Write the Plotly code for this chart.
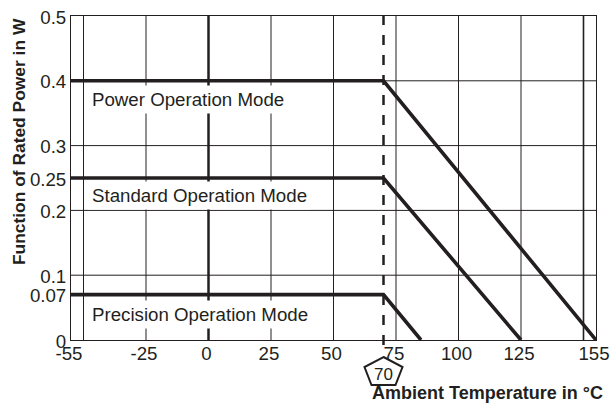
import plotly.graph_objects as go

# ---- data ----
power_x = [-55, 70, 155]
power_y = [0.4, 0.4, 0.0]
standard_x = [-55, 70, 125]
standard_y = [0.25, 0.25, 0.0]
precision_x = [-55, 70, 85]
precision_y = [0.07, 0.07, 0.0]

x_tickvals = [-55, -25, 0, 25, 50, 75, 100, 125, 155]
x_ticktext = ["-55", "-25", "0", "25", "50", "75", "100", "125", "155"]
y_tickvals = [0, 0.07, 0.1, 0.2, 0.25, 0.3, 0.4, 0.5]
y_ticktext = ["0", "0.07", "0.1", "0.2", "0.25", "0.3", "0.4", "0.5"]

v_grid = [-50, -25, 25, 50, 75, 100, 125]
v_grid_bold = [0]
v_grid_mid = [150]
h_grid = [0.1, 0.2, 0.3, 0.4]
limit_temp = 70

labels = ["Power Operation Mode", "Standard Operation Mode", "Precision Operation Mode"]
label_y = [0.371, 0.223, 0.039]

INK = "#231f20"
FONT = "Liberation Sans, Arial, Helvetica, sans-serif"
FS = 18.7

fig = go.Figure()
for xs, ys in [(power_x, power_y), (standard_x, standard_y), (precision_x, precision_y)]:
    fig.add_trace(go.Scatter(x=xs, y=ys, mode="lines",
                             line=dict(color=INK, width=3.6),
                             showlegend=False, hoverinfo="skip"))

shapes = []
for v in v_grid:
    shapes.append(dict(type="line", xref="x", yref="paper", x0=v, x1=v, y0=0, y1=1,
                       line=dict(color=INK, width=1), layer="below"))
for v in v_grid_bold:
    shapes.append(dict(type="line", xref="x", yref="paper", x0=v, x1=v, y0=0, y1=1,
                       line=dict(color=INK, width=2.5), layer="below"))
for v in v_grid_mid:
    shapes.append(dict(type="line", xref="x", yref="paper", x0=v, x1=v, y0=0, y1=1,
                       line=dict(color=INK, width=1.6), layer="below"))
for h in h_grid:
    shapes.append(dict(type="line", xref="paper", yref="y", x0=0, x1=1, y0=h, y1=h,
                       line=dict(color=INK, width=1), layer="below"))
# dashed limit line
shapes.append(dict(type="line", xref="x", yref="paper", x0=limit_temp, x1=limit_temp,
                   y0=-0.0154, y1=1, line=dict(color=INK, width=2.5, dash="10px,10px"),
                   layer="above"))
# pentagon marker under the axis
shapes.append(dict(type="path", xref="x", yref="paper", xsizemode="pixel", ysizemode="pixel",
                   xanchor=limit_temp, yanchor=-0.0957,
                   path="M 0,14 L 19,4 L 12,-14 L -12,-14 L -19,4 Z",
                   line=dict(color=INK, width=2), fillcolor="white", layer="above"))

annotations = []
for t, y in zip(labels, label_y):
    annotations.append(dict(text=t, x=-48.2, y=y, xref="x", yref="y", xanchor="left",
                            yanchor="middle", showarrow=False, bgcolor="white", borderpad=3,
                            font=dict(family=FONT, size=FS, color=INK)))
annotations.append(dict(text=str(limit_temp), x=limit_temp, y=-0.1050, xref="x", yref="paper",
                        xanchor="center", yanchor="middle", showarrow=False,
                        font=dict(family=FONT, size=17, color=INK)))
annotations.append(dict(text="<b>Ambient Temperature in °C</b>", x=1.017, y=-0.1636,
                        xref="paper", yref="paper", xanchor="right", yanchor="middle",
                        showarrow=False, font=dict(family=FONT, size=18, color=INK)))
annotations.append(dict(text="<b>Function of Rated Power in W</b>", x=-0.099, y=0.611,
                        xref="paper", yref="paper", xanchor="center", yanchor="middle",
                        textangle=-90, showarrow=False,
                        font=dict(family=FONT, size=17.4, color=INK)))

fig.update_layout(
    width=610, height=405,
    margin=dict(l=71, r=14, t=16, b=65),
    paper_bgcolor="white", plot_bgcolor="white",
    font=dict(family=FONT, size=FS, color=INK),
    shapes=shapes, annotations=annotations,
    xaxis=dict(range=[-55, 155], tickvals=x_tickvals, ticktext=x_ticktext,
               showgrid=False, zeroline=False, showline=True, mirror=True, automargin=False,
               ticklabeloverflow="allow", ticklabelstandoff=-3, ticklabelshift=-2,
               linecolor=INK, linewidth=1, ticks="", tickfont=dict(size=FS, color=INK)),
    yaxis=dict(range=[0, 0.5], tickvals=y_tickvals, ticktext=y_ticktext,
               showgrid=False, zeroline=False, showline=True, mirror=True, automargin=False,
               ticklabeloverflow="allow", ticklabelshift=1,
               linecolor=INK, linewidth=1, ticks="", tickfont=dict(size=FS, color=INK)),
)

# remove the default 8px page margin so the 610x405 figure fills the window exactly
fig.write_html("out.html", config={"displayModeBar": False},
               post_script="document.body.style.margin='0';document.body.style.overflow='hidden';")
